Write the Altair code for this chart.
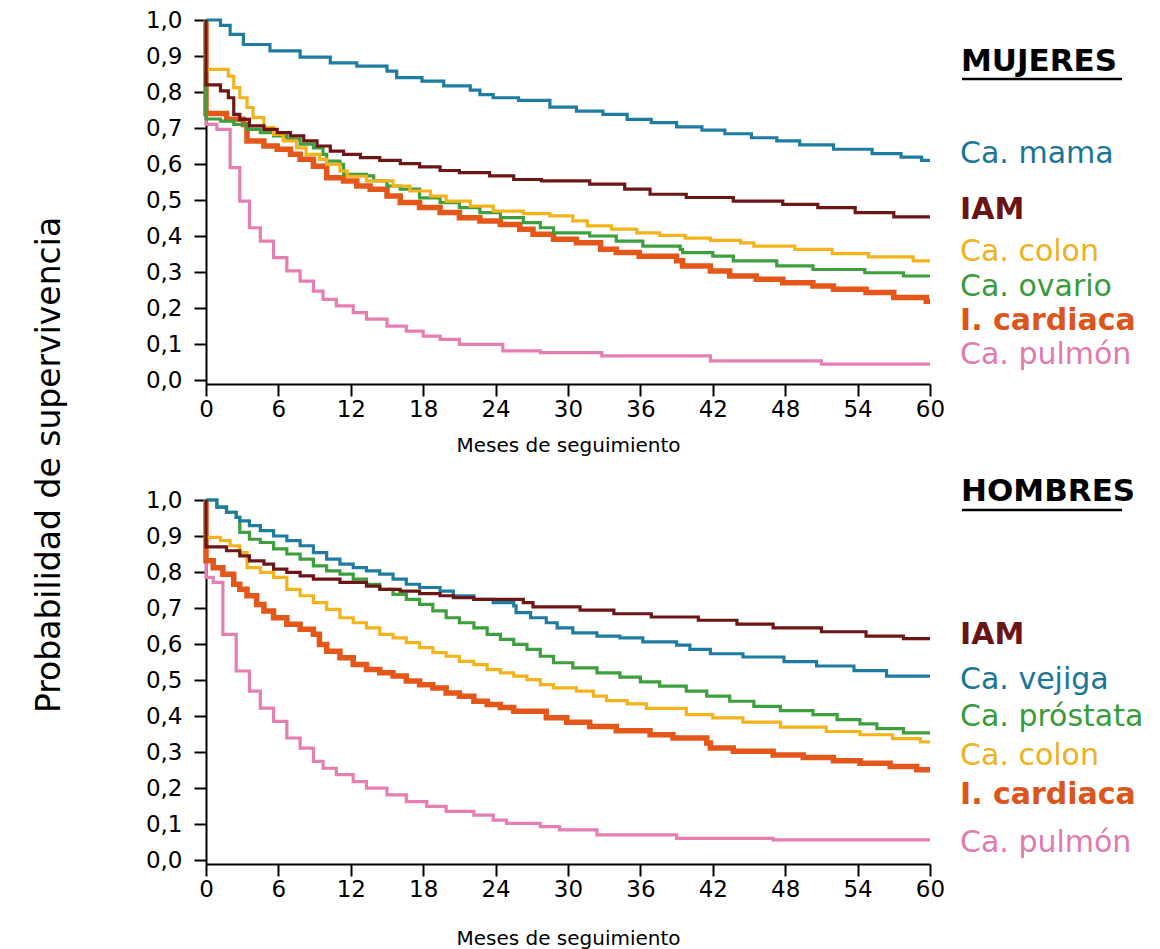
import altair as alt
import pandas as pd

# ---------------- data ----------------
# MUJERES
muj_mama_t = [0, 1.2, 2.0, 3.1, 5.3, 7.8, 10.3, 12.5, 15.0, 15.8, 17.9, 19.7, 21.9, 22.7, 23.8, 25.9, 28.5, 30.7, 32.9, 34.9,
              36.9, 39.0, 41.1, 43.0, 45.2, 47.3, 49.2, 52.0, 55.2, 57.6, 59.3, 60]
muj_mama_s = [1.0, 0.985, 0.96, 0.932, 0.914, 0.897, 0.881, 0.872, 0.858, 0.84, 0.83, 0.817, 0.805, 0.793, 0.784, 0.777, 0.758, 0.747, 0.738, 0.724,
              0.715, 0.703, 0.694, 0.684, 0.673, 0.664, 0.653, 0.641, 0.629, 0.619, 0.61, 0.61]

muj_iam_t = [0, 0, 1.2, 1.85, 2.3, 2.8, 3.6, 4.8, 5.9, 7.0, 8.1, 9.2, 10.3, 11.4, 12.8, 14.4, 16.1, 17.7, 19.4, 21.0,
             23.5, 25.5, 27.8, 31.8, 34.7, 36.8, 39.8, 43.7, 47.8, 50.7, 53.8, 57.0, 60]
muj_iam_s = [1.0, 0.82, 0.803, 0.784, 0.738, 0.724, 0.706, 0.696, 0.687, 0.678, 0.664, 0.65, 0.636, 0.627, 0.618, 0.61, 0.601, 0.592, 0.582, 0.576,
             0.567, 0.557, 0.553, 0.544, 0.53, 0.516, 0.507, 0.497, 0.488, 0.479, 0.465, 0.453, 0.453]

muj_colon_t = [0, 0, 1.85, 2.3, 2.8, 3.4, 3.9, 4.8, 5.6, 6.4, 7.5, 8.3, 9.4, 10.0, 11.1, 11.7, 13.3, 15.5, 16.9, 18.6,
               19.9, 21.9, 23.8, 26.3, 28.5, 30.4, 31.6, 33.6, 35.7, 37.6, 39.7, 41.8, 44.3, 45.4, 48.8, 51.9, 54.9, 58.6, 60]
muj_colon_s = [1.0, 0.863, 0.844, 0.812, 0.784, 0.757, 0.729, 0.701, 0.682, 0.664, 0.645, 0.627, 0.613, 0.599, 0.58, 0.566, 0.553, 0.539, 0.525, 0.511,
               0.497, 0.483, 0.469, 0.462, 0.456, 0.442, 0.428, 0.419, 0.409, 0.402, 0.394, 0.388, 0.381, 0.372, 0.363, 0.351, 0.342, 0.331, 0.331]

muj_ovario_t = [0, 0, 1.2, 2.3, 3.4, 4.5, 5.6, 6.7, 7.8, 8.9, 9.7, 10.0, 11.1, 11.4, 13.3, 13.9, 15.0, 16.1, 17.7, 19.4,
                21.0, 22.7, 24.4, 26.3, 27.7, 28.8, 31.8, 34.0, 36.2, 39.3, 39.5, 42.0, 43.7, 47.3, 50.3, 54.6, 57.8, 60]
muj_ovario_s = [1.0, 0.725, 0.719, 0.71, 0.696, 0.687, 0.678, 0.669, 0.655, 0.645, 0.627, 0.608, 0.599, 0.571, 0.567, 0.553, 0.539, 0.53, 0.506, 0.493,
                0.479, 0.465, 0.451, 0.437, 0.423, 0.409, 0.4, 0.386, 0.372, 0.363, 0.354, 0.344, 0.331, 0.317, 0.307, 0.298, 0.289, 0.289]

muj_card_t = [0, 0, 1.7, 3.1, 3.4, 4.8, 5.9, 7.0, 7.8, 8.9, 10.0, 11.4, 12.5, 13.6, 15.0, 16.1, 17.7, 19.4, 21.0, 22.7,
              24.4, 26.0, 27.1, 28.8, 30.7, 32.7, 34.0, 35.9, 39.0, 39.5, 41.8, 43.4, 45.6, 47.8, 50.3, 52.0, 54.7, 57.0, 59.7, 60]
muj_card_s = [1.0, 0.74, 0.724, 0.71, 0.664, 0.65, 0.641, 0.627, 0.613, 0.594, 0.562, 0.553, 0.539, 0.53, 0.511, 0.493, 0.479, 0.465, 0.451, 0.442,
              0.432, 0.419, 0.405, 0.391, 0.381, 0.363, 0.354, 0.344, 0.331, 0.317, 0.303, 0.289, 0.28, 0.27, 0.261, 0.252, 0.243, 0.229, 0.219, 0.219]

muj_pulmon_t = [0, 0, 0.9, 2.0, 2.8, 3.6, 4.5, 5.6, 6.7, 7.8, 8.9, 9.7, 10.8, 12.2, 13.3, 15.0, 16.6, 18.0, 19.4, 21.0,
                24.6, 27.7, 32.8, 41.8, 51.0, 60]
muj_pulmon_s = [1.0, 0.71, 0.696, 0.59, 0.497, 0.423, 0.386, 0.34, 0.303, 0.275, 0.247, 0.224, 0.206, 0.187, 0.169, 0.15, 0.136, 0.122, 0.113, 0.099,
                0.081, 0.076, 0.067, 0.053, 0.044, 0.044]

# HOMBRES
hom_vejiga_t = [0, 0.9, 1.7, 2.5, 2.8, 3.6, 4.5, 5.6, 6.7, 7.8, 8.9, 10.0, 11.1, 12.2, 13.3, 14.4, 15.5, 16.6, 17.7, 19.4,
                20.5, 22.2, 23.8, 25.5, 25.7, 26.9, 28.2, 29.1, 30.4, 32.4, 34.3, 36.2, 39.0, 40.1, 41.8, 44.5, 47.9, 50.6, 53.7, 56.4, 60]
hom_vejiga_s = [1.0, 0.98, 0.966, 0.952, 0.942, 0.929, 0.915, 0.9, 0.887, 0.873, 0.854, 0.836, 0.822, 0.812, 0.803, 0.794, 0.78, 0.766, 0.757, 0.747,
                0.734, 0.724, 0.715, 0.706, 0.687, 0.673, 0.659, 0.645, 0.631, 0.622, 0.617, 0.606, 0.597, 0.585, 0.573, 0.564, 0.551, 0.539, 0.526, 0.511, 0.511]

hom_iam_t = [0, 0, 1.7, 2.8, 3.6, 4.8, 5.6, 6.7, 7.8, 8.9, 11.1, 13.3, 14.4, 16.1, 17.7, 19.4, 20.5, 22.2, 26.3, 27.1,
             31.0, 33.8, 36.9, 40.8, 44.0, 47.0, 51.0, 54.7, 57.8, 60]
hom_iam_s = [1.0, 0.87, 0.859, 0.845, 0.831, 0.822, 0.808, 0.799, 0.789, 0.78, 0.771, 0.761, 0.752, 0.747, 0.74, 0.734, 0.729, 0.724, 0.715, 0.703,
             0.694, 0.684, 0.675, 0.666, 0.655, 0.645, 0.634, 0.622, 0.615, 0.615]

hom_prostata_t = [0, 0.9, 1.7, 2.5, 2.8, 3.6, 4.5, 5.6, 6.7, 7.8, 8.9, 10.0, 11.1, 12.2, 13.3, 14.4, 15.5, 16.6, 17.7, 18.8,
                  19.9, 21.0, 22.2, 23.3, 24.4, 25.5, 26.6, 27.7, 28.8, 30.4, 32.4, 34.3, 36.0, 37.6, 39.8, 41.5, 43.4, 45.4, 47.6, 50.3,
                  52.3, 54.2, 55.6, 57.8, 60]
hom_prostata_s = [1.0, 0.98, 0.966, 0.952, 0.91, 0.891, 0.882, 0.864, 0.85, 0.836, 0.817, 0.803, 0.794, 0.78, 0.766, 0.752, 0.738, 0.724, 0.71, 0.692,
                  0.673, 0.659, 0.645, 0.627, 0.613, 0.599, 0.585, 0.566, 0.548, 0.534, 0.52, 0.508, 0.495, 0.483, 0.469, 0.455, 0.441, 0.427, 0.415, 0.404,
                  0.39, 0.378, 0.365, 0.353, 0.353]

hom_colon_t = [0, 0, 1.2, 2.0, 2.8, 3.4, 4.5, 5.6, 6.7, 7.8, 8.9, 10.0, 11.1, 12.2, 13.3, 14.4, 15.5, 16.6, 17.7, 18.8,
               19.9, 21.0, 22.2, 23.3, 24.4, 25.5, 26.6, 27.7, 28.8, 30.7, 32.1, 33.2, 34.9, 36.5, 39.8, 42.0, 44.5, 47.6, 51.4, 54.2,
               56.9, 59.2, 60]
hom_colon_s = [1.0, 0.896, 0.887, 0.873, 0.854, 0.812, 0.799, 0.785, 0.752, 0.734, 0.715, 0.696, 0.673, 0.659, 0.645, 0.627, 0.617, 0.604, 0.59, 0.576,
               0.566, 0.552, 0.543, 0.529, 0.52, 0.511, 0.501, 0.487, 0.478, 0.469, 0.455, 0.443, 0.434, 0.421, 0.404, 0.395, 0.383, 0.369, 0.357, 0.348,
               0.337, 0.328, 0.328]

hom_card_t = [0, 0, 0.6, 1.4, 2.3, 2.8, 3.4, 4.2, 4.8, 5.6, 6.7, 7.8, 8.9, 9.4, 10.0, 11.1, 12.2, 13.3, 14.4, 15.5,
              16.6, 17.7, 18.8, 19.9, 21.0, 22.2, 23.3, 24.4, 25.5, 28.2, 29.9, 31.8, 34.0, 36.8, 38.7, 41.5, 41.8, 43.7, 47.0, 49.5,
              52.0, 54.2, 56.7, 58.9, 60]
hom_card_s = [1.0, 0.831, 0.812, 0.794, 0.766, 0.752, 0.734, 0.71, 0.692, 0.673, 0.655, 0.641, 0.627, 0.599, 0.58, 0.562, 0.543, 0.529, 0.52, 0.511,
              0.497, 0.487, 0.478, 0.464, 0.455, 0.441, 0.432, 0.424, 0.413, 0.395, 0.383, 0.371, 0.359, 0.348, 0.339, 0.325, 0.311, 0.302, 0.292, 0.285,
              0.276, 0.269, 0.26, 0.251, 0.251]

hom_pulmon_t = [0, 0, 0.6, 1.4, 2.5, 3.6, 4.5, 5.6, 6.7, 7.8, 8.9, 9.7, 10.8, 12.2, 13.3, 15.0, 16.6, 18.3, 19.9, 22.2,
                23.8, 24.9, 27.7, 29.3, 32.4, 39.0, 47.0, 60]
hom_pulmon_s = [1.0, 0.785, 0.771, 0.627, 0.525, 0.469, 0.422, 0.385, 0.339, 0.311, 0.274, 0.255, 0.237, 0.218, 0.2, 0.181, 0.162, 0.149, 0.135, 0.125,
                0.111, 0.102, 0.093, 0.084, 0.07, 0.06, 0.056, 0.056]

# labels
muj_labels = ["Ca. mama", "IAM", "Ca. colon", "Ca. ovario", "I. cardiaca", "Ca. pulmón"]
hom_labels = ["IAM", "Ca. vejiga", "Ca. próstata", "Ca. colon", "I. cardiaca", "Ca. pulmón"]
x_ticks = [0, 6, 12, 18, 24, 30, 36, 42, 48, 54, 60]
y_ticks = [0.0, 0.1, 0.2, 0.3, 0.4, 0.5, 0.6, 0.7, 0.8, 0.9, 1.0]

# ---------------- layout / style ----------------
FONT = "DejaVu Sans"
W, H = 724, 364
Y_MIN = -0.011
BLUE, DRED, YEL, GRN, ORG, PINK = "#1e7ca0", "#6c1616", "#f4b21b", "#3d9f3d", "#e4571b", "#e57fb2"
TXT = {"blue": "#1b7596", "dred": "#6a1515", "yel": "#efb11e", "grn": "#3b9a3b", "org": "#dc561c", "pink": "#e27aae"}

muj_label_y = [0.603, 0.447, 0.331, 0.234, 0.139, 0.044]
hom_label_y = [0.601, 0.476, 0.372, 0.265, 0.157, 0.023]
muj_label_c = [TXT["blue"], TXT["dred"], TXT["yel"], TXT["grn"], TXT["org"], TXT["pink"]]
hom_label_c = [TXT["dred"], TXT["blue"], TXT["grn"], TXT["yel"], TXT["org"], TXT["pink"]]
muj_label_b = [False, True, False, False, True, False]
hom_label_b = [True, False, False, False, True, False]

xscale = alt.Scale(domain=[0, 60], nice=False, zero=False)
yscale = alt.Scale(domain=[Y_MIN, 1.0], nice=False, zero=False)
AX = dict(grid=False, domainColor="black", domainWidth=2, tickColor="black", tickWidth=2, tickSize=12,
          labelFont=FONT, labelFontSize=23, labelColor="black")


def xaxis(title_pad):
    return alt.Axis(values=x_ticks, title="Meses de seguimiento", titleFontSize=20, titleFontWeight="normal",
                    titleFont=FONT, titleColor="black", titlePadding=title_pad, labelPadding=2,
                    labelFlush=False, **AX)


yaxis = alt.Axis(values=y_ticks, title=None, labelExpr="replace(format(datum.value, '.1f'), '.', ',')",
                 labelPadding=12, **AX)


def km(ts, vs, color, width, xa):
    df = pd.DataFrame({"t": ts, "s": vs, "i": list(range(len(ts)))})
    return alt.Chart(df).mark_line(interpolate="step-after", color=color, strokeWidth=width).encode(
        x=alt.X("t:Q", scale=xscale, axis=xa),
        y=alt.Y("s:Q", scale=yscale, axis=yaxis),
        order=alt.Order("i:Q"),
    )


def label_layers(names, ys, colors, bolds):
    out = []
    for n, yv, c, b in zip(names, ys, colors, bolds):
        df = pd.DataFrame({"label": [n], "y": [yv]})
        out.append(alt.Chart(df).mark_text(align="left", baseline="alphabetic", font=FONT, fontSize=30,
                                           fontWeight="bold" if b else "normal", color=c).encode(
            x=alt.value(754),
            y=alt.Y("y:Q", scale=yscale, axis=yaxis),
            text="label:N"))
    return out


def header(text, yv, underline_px):
    df = pd.DataFrame({"label": [text], "y": [yv]})
    t = alt.Chart(df).mark_text(align="left", baseline="alphabetic", font=FONT, fontSize=31,
                                fontWeight="bold", color="black").encode(
        x=alt.value(755), y=alt.Y("y:Q", scale=yscale, axis=yaxis), text="label:N")
    u = alt.Chart(df).mark_rule(color="black", strokeWidth=2.5).encode(
        x=alt.value(756), x2=alt.value(916), y=alt.value(underline_px))
    return [t, u]


xa_top = xaxis(14)
xa_bot = xaxis(27)

top_layers = [
    km(muj_pulmon_t, muj_pulmon_s, PINK, 3.2, xa_top),
    km(muj_card_t, muj_card_s, ORG, 5.5, xa_top),
    km(muj_ovario_t, muj_ovario_s, GRN, 3.2, xa_top),
    km(muj_colon_t, muj_colon_s, YEL, 3.2, xa_top),
    km(muj_mama_t, muj_mama_s, BLUE, 3.2, xa_top),
    km(muj_iam_t, muj_iam_s, DRED, 3.2, xa_top),
] + label_layers(muj_labels, muj_label_y, muj_label_c, muj_label_b) + header("MUJERES", 0.858, 59)

ytitle = alt.Chart(pd.DataFrame({"label": ["Probabilidad de supervivencia"]})).mark_text(
    angle=270, align="center", baseline="middle", font=FONT, fontSize=33, color="black").encode(
    x=alt.value(-156), y=alt.value(445), text="label:N")
top_layers.append(ytitle)

bottom_layers = [
    km(hom_pulmon_t, hom_pulmon_s, PINK, 3.2, xa_bot),
    km(hom_card_t, hom_card_s, ORG, 5.5, xa_bot),
    km(hom_colon_t, hom_colon_s, YEL, 3.2, xa_bot),
    km(hom_prostata_t, hom_prostata_s, GRN, 3.2, xa_bot),
    km(hom_vejiga_t, hom_vejiga_s, BLUE, 3.2, xa_bot),
    km(hom_iam_t, hom_iam_s, DRED, 3.2, xa_bot),
] + label_layers(hom_labels, hom_label_y, hom_label_c, hom_label_b) + header("HOMBRES", 0.997, 10)

top = alt.layer(*top_layers).properties(width=W, height=H)
bottom = alt.layer(*bottom_layers).properties(width=W, height=H)

chart = alt.vconcat(top, bottom, spacing=116, bounds="flush").properties(
    padding={"left": 26, "top": 1, "right": 0, "bottom": 40},
    background="white",
).configure_view(stroke=None)

chart.save("out.html", embed_options={"renderer": "svg", "actions": False})
